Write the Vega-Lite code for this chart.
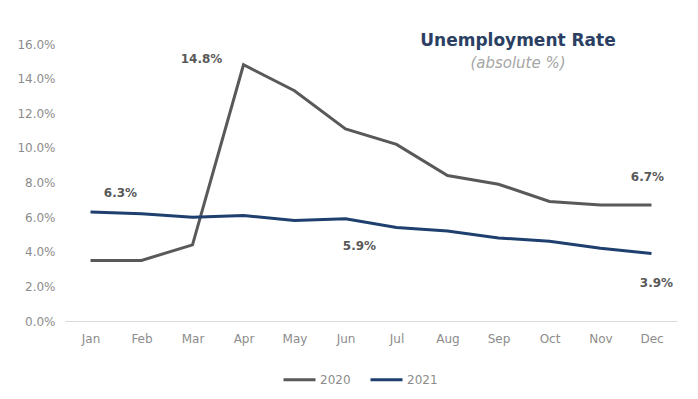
{
  "$schema": "https://vega.github.io/schema/vega-lite/v6.json",
  "autosize": {"type": "none"},
  "width": 612,
  "height": 277,
  "padding": {"left": 65, "top": 44, "right": 21, "bottom": 78},
  "background": "white",
  "title": {
    "text": "Unemployment Rate",
    "subtitle": "(absolute %)",
    "anchor": "middle",
    "dx": 147,
    "offset": -34,
    "font": "DejaVu Sans",
    "fontSize": 17,
    "fontWeight": "bold",
    "color": "#2b3f63",
    "subtitleFont": "DejaVu Sans",
    "subtitleFontSize": 15,
    "subtitleFontStyle": "italic",
    "subtitleColor": "#a6a6a6",
    "subtitlePadding": 6
  },
  "config": {
    "view": {"stroke": null},
    "font": "DejaVu Sans"
  },
  "data": {
    "values": [
      {"month": "Jan", "year": "2020", "rate": 3.5},
      {"month": "Feb", "year": "2020", "rate": 3.5},
      {"month": "Mar", "year": "2020", "rate": 4.4},
      {"month": "Apr", "year": "2020", "rate": 14.8},
      {"month": "May", "year": "2020", "rate": 13.3},
      {"month": "Jun", "year": "2020", "rate": 11.1},
      {"month": "Jul", "year": "2020", "rate": 10.2},
      {"month": "Aug", "year": "2020", "rate": 8.4},
      {"month": "Sep", "year": "2020", "rate": 7.9},
      {"month": "Oct", "year": "2020", "rate": 6.9},
      {"month": "Nov", "year": "2020", "rate": 6.7},
      {"month": "Dec", "year": "2020", "rate": 6.7},
      {"month": "Jan", "year": "2021", "rate": 6.3},
      {"month": "Feb", "year": "2021", "rate": 6.2},
      {"month": "Mar", "year": "2021", "rate": 6.0},
      {"month": "Apr", "year": "2021", "rate": 6.1},
      {"month": "May", "year": "2021", "rate": 5.8},
      {"month": "Jun", "year": "2021", "rate": 5.9},
      {"month": "Jul", "year": "2021", "rate": 5.4},
      {"month": "Aug", "year": "2021", "rate": 5.2},
      {"month": "Sep", "year": "2021", "rate": 4.8},
      {"month": "Oct", "year": "2021", "rate": 4.6},
      {"month": "Nov", "year": "2021", "rate": 4.2},
      {"month": "Dec", "year": "2021", "rate": 3.9}
    ]
  },
  "encoding": {
    "x": {
      "field": "month",
      "type": "ordinal",
      "sort": ["Jan","Feb","Mar","Apr","May","Jun","Jul","Aug","Sep","Oct","Nov","Dec"],
      "scale": {"type": "point", "padding": 0.5},
      "axis": {
        "title": null,
        "labelAngle": 0,
        "ticks": false,
        "domainColor": "#d9d9d9",
        "labelColor": "#8c8c8c",
        "labelFontSize": 12,
        "labelPadding": 12,
        "grid": false
      }
    },
    "y": {
      "field": "rate",
      "type": "quantitative",
      "scale": {"domain": [0, 16]},
      "axis": {
        "title": null,
        "values": [0,2,4,6,8,10,12,14,16],
        "labelExpr": "format(datum.value, '.1f') + '%'",
        "domain": false,
        "ticks": false,
        "grid": false,
        "labelColor": "#8c8c8c",
        "labelFontSize": 12,
        "labelPadding": 10
      }
    }
  },
  "layer": [
    {
      "mark": {"type": "line", "strokeWidth": 3},
      "encoding": {
        "color": {
          "field": "year",
          "type": "nominal",
          "scale": {"domain": ["2020", "2021"], "range": ["#595959", "#1f3f6e"]},
          "legend": {
            "title": null,
            "orient": "none",
            "direction": "horizontal",
            "legendX": 217,
            "legendY": 318,
            "symbolType": "stroke",
            "symbolStrokeWidth": 3,
            "symbolSize": 1024,
            "labelColor": "#8c8c8c",
            "labelFontSize": 12,
            "labelOffset": 3,
            "columnPadding": 13
          }
        }
      }
    },
    {
      "transform": [{"filter": "datum.year == '2020' && datum.month == 'Apr'"}],
      "mark": {"type": "text", "dx": -42, "dy": -6, "fontWeight": "bold", "fontSize": 12, "color": "#595959", "text": {"expr": "format(datum.rate, '.1f') + '%'"}}
    },
    {
      "transform": [{"filter": "datum.year == '2021' && datum.month == 'Jan'"}],
      "mark": {"type": "text", "dx": 30, "dy": -19, "fontWeight": "bold", "fontSize": 12, "color": "#595959", "text": {"expr": "format(datum.rate, '.1f') + '%'"}}
    },
    {
      "transform": [{"filter": "datum.year == '2021' && datum.month == 'Jun'"}],
      "mark": {"type": "text", "dx": 14, "dy": 27, "fontWeight": "bold", "fontSize": 12, "color": "#595959", "text": {"expr": "format(datum.rate, '.1f') + '%'"}}
    },
    {
      "transform": [{"filter": "datum.year == '2020' && datum.month == 'Dec'"}],
      "mark": {"type": "text", "dx": -4, "dy": -28, "fontWeight": "bold", "fontSize": 12, "color": "#595959", "text": {"expr": "format(datum.rate, '.1f') + '%'"}}
    },
    {
      "transform": [{"filter": "datum.year == '2021' && datum.month == 'Dec'"}],
      "mark": {"type": "text", "dx": 5, "dy": 30, "fontWeight": "bold", "fontSize": 12, "color": "#595959", "text": {"expr": "format(datum.rate, '.1f') + '%'"}}
    }
  ]
}
